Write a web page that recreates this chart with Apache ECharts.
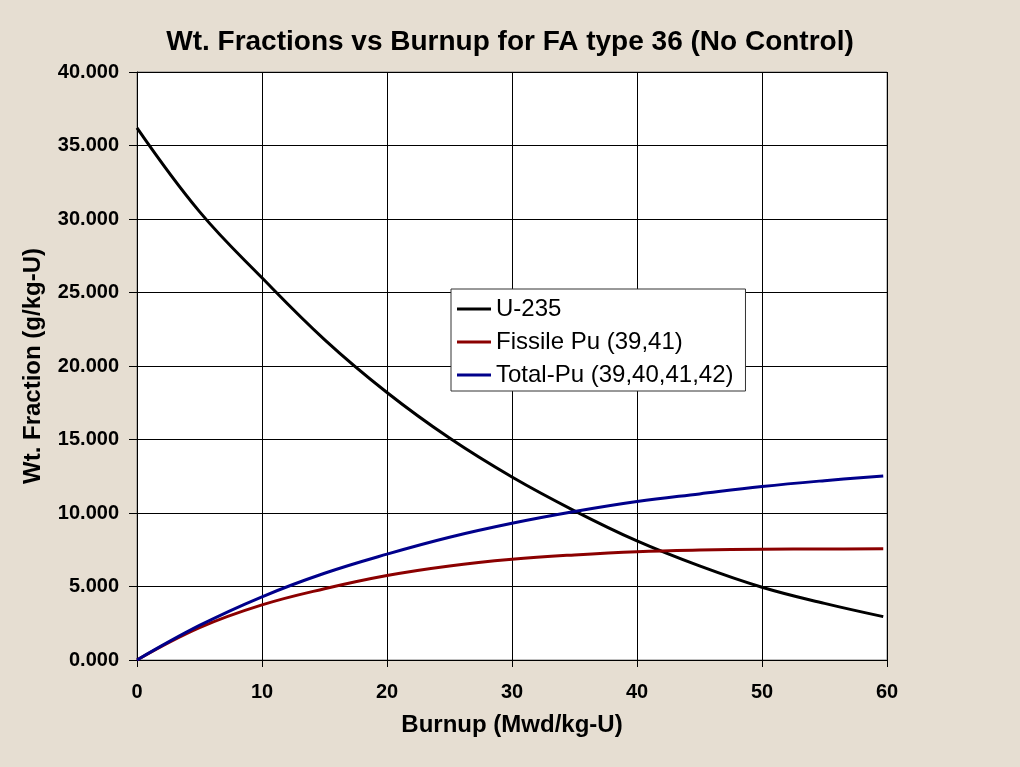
<!DOCTYPE html>
<html>
<head>
<meta charset="utf-8">
<script src="https://cdn.jsdelivr.net/npm/echarts@6/dist/echarts.min.js"></script>
<style>
html,body{margin:0;padding:0;background:#E6DED2;}
#c{width:1020px;height:767px;}
</style>
</head>
<body>
<div id="c"></div>
<script>
const burnup = [0, 5, 10, 15, 20, 25, 30, 35, 40, 45, 50, 55, 59.7];
const u235 = [36.2, 30.5, 26.0, 21.8, 18.2, 15.1, 12.45, 10.15, 8.1, 6.4, 4.95, 3.85, 2.95];
const fissilePu = [0, 2.2, 3.75, 4.85, 5.75, 6.4, 6.85, 7.15, 7.37, 7.48, 7.53, 7.55, 7.56];
const totalPu = [0, 2.35, 4.3, 5.9, 7.2, 8.35, 9.3, 10.1, 10.78, 11.3, 11.8, 12.2, 12.52];
const seriesNames = ['U-235', 'Fissile Pu (39,41)', 'Total-Pu (39,40,41,42)'];

const pair = arr => burnup.map((x, i) => [x, arr[i]]);
const chart = echarts.init(document.getElementById('c'));
const font = 'Arial, "Liberation Sans", sans-serif';
chart.setOption({
  backgroundColor: '#E6DED2',
  animation: false,
  title: {
    text: 'Wt. Fractions vs Burnup for FA type 36 (No Control)',
    left: 'center', top: 23,
    textStyle: {fontFamily: font, fontSize: 28, fontWeight: 'bold', color: '#000'}
  },
  grid: {left: 137, right: 133, top: 72, bottom: 107, show: true, backgroundColor: '#fff', borderColor: '#808080', borderWidth: 1},
  legend: {
    orient: 'vertical', left: 451, top: 289,
    backgroundColor: '#fff', borderColor: '#333', borderWidth: 1,
    padding: [8, 12, 4, 6], itemGap: 9, itemWidth: 34, itemHeight: 3,
    icon: 'rect',
    textStyle: {fontFamily: font, fontSize: 24, color: '#000', lineHeight: 24, padding: [0,0,0,0]},
    data: seriesNames
  },
  xAxis: {
    type: 'value', min: 0, max: 60, interval: 10,
    name: 'Burnup (Mwd/kg-U)', nameLocation: 'middle', nameGap: 53,
    nameTextStyle: {fontFamily: font, fontSize: 24, fontWeight: 'bold', color: '#000'},
    axisLine: {show: true, lineStyle: {color: '#000', width: 1}},
    axisTick: {show: true, inside: false, length: 7, lineStyle: {color: '#000'}},
    axisLabel: {fontFamily: font, fontSize: 20, fontWeight: 'bold', color: '#000', margin: 22},
    splitLine: {show: true, lineStyle: {color: '#000', width: 1}}
  },
  yAxis: {
    type: 'value', min: 0, max: 40, interval: 5,
    name: 'Wt. Fraction (g/kg-U)', nameLocation: 'middle', nameGap: 92, nameRotate: 90,
    nameTextStyle: {fontFamily: font, fontSize: 24, fontWeight: 'bold', color: '#000'},
    axisLine: {show: true, lineStyle: {color: '#000', width: 1}},
    axisTick: {show: true, inside: false, length: 8, lineStyle: {color: '#000'}},
    axisLabel: {fontFamily: font, fontSize: 20, fontWeight: 'bold', color: '#000', margin: 18,
      formatter: v => v.toFixed(3)},
    splitLine: {show: true, lineStyle: {color: '#000', width: 1}}
  },
  series: [
    {name: seriesNames[0], type: 'line', data: pair(u235), smooth: 0.4, showSymbol: false, color: '#000000', lineStyle: {width: 3}},
    {name: seriesNames[1], type: 'line', data: pair(fissilePu), smooth: 0.4, showSymbol: false, color: '#8B0000', lineStyle: {width: 3}},
    {name: seriesNames[2], type: 'line', data: pair(totalPu), smooth: 0.4, showSymbol: false, color: '#00008B', lineStyle: {width: 3}}
  ]
});
</script>
</body>
</html>
